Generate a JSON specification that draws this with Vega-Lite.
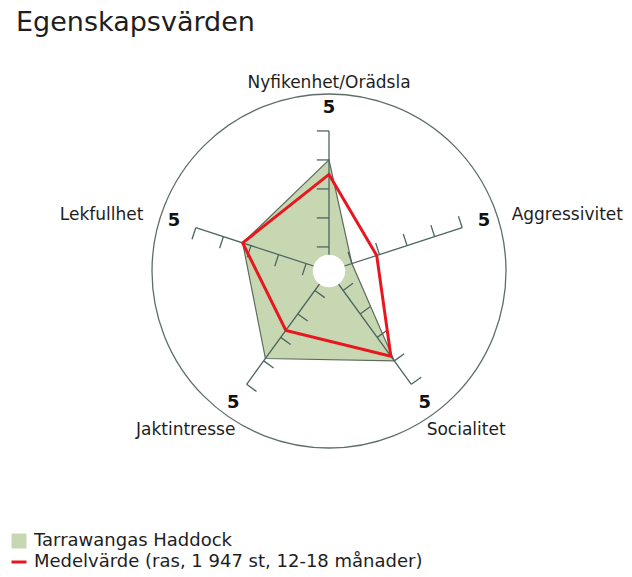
{
  "$schema": "https://vega.github.io/schema/vega-lite/v6.json",
  "width": 632,
  "height": 577,
  "autosize": "none",
  "padding": 0,
  "background": "white",
  "title": {
    "text": "Egenskapsvärden",
    "anchor": "start",
    "frame": "group",
    "offset": -37,
    "dx": 16,
    "baseline": "top",
    "font": "DejaVu Sans",
    "fontSize": 27,
    "fontWeight": "normal",
    "color": "#1e1e1e"
  },
  "datasets": {
    "varden": [
      {"egenskap": "Nyfikenhet/Orädsla", "ordning": 0, "serie": "Tarrawangas Haddock", "varde": 4},
      {"egenskap": "Aggressivitet", "ordning": 1, "serie": "Tarrawangas Haddock", "varde": 1},
      {"egenskap": "Socialitet", "ordning": 2, "serie": "Tarrawangas Haddock", "varde": 4},
      {"egenskap": "Jaktintresse", "ordning": 3, "serie": "Tarrawangas Haddock", "varde": 3.9},
      {"egenskap": "Lekfullhet", "ordning": 4, "serie": "Tarrawangas Haddock", "varde": 3.3},
      {"egenskap": "Nyfikenhet/Orädsla", "ordning": 0, "serie": "Medelvärde (ras, 1 947 st, 12-18 månader)", "varde": 3.5},
      {"egenskap": "Aggressivitet", "ordning": 1, "serie": "Medelvärde (ras, 1 947 st, 12-18 månader)", "varde": 1.9},
      {"egenskap": "Socialitet", "ordning": 2, "serie": "Medelvärde (ras, 1 947 st, 12-18 månader)", "varde": 3.8},
      {"egenskap": "Jaktintresse", "ordning": 3, "serie": "Medelvärde (ras, 1 947 st, 12-18 månader)", "varde": 2.7},
      {"egenskap": "Lekfullhet", "ordning": 4, "serie": "Medelvärde (ras, 1 947 st, 12-18 månader)", "varde": 3.3}
    ],
    "axlar": [
      {"egenskap": "Nyfikenhet/Orädsla", "ordning": 0, "skala": [1, 2, 3, 4, 5], "max": 5},
      {"egenskap": "Aggressivitet", "ordning": 1, "skala": [1, 2, 3, 4, 5], "max": 5},
      {"egenskap": "Socialitet", "ordning": 2, "skala": [1, 2, 3, 4, 5], "max": 5},
      {"egenskap": "Jaktintresse", "ordning": 3, "skala": [1, 2, 3, 4, 5], "max": 5},
      {"egenskap": "Lekfullhet", "ordning": 4, "skala": [1, 2, 3, 4, 5], "max": 5}
    ]
  },
  "encoding": {
    "x": {
      "field": "px",
      "type": "quantitative",
      "scale": {"domain": [-11.3448, 10.4483], "nice": false, "zero": false},
      "axis": null
    },
    "y": {
      "field": "py",
      "type": "quantitative",
      "scale": {"domain": [-10.5517, 9.3448], "nice": false, "zero": false},
      "axis": null
    }
  },
  "layer": [
    {
      "data": {"name": "axlar"},
      "transform": [
        {"filter": "datum.ordning == 0"},
        {"calculate": "0", "as": "px"},
        {"calculate": "0", "as": "py"}
      ],
      "mark": {"type": "point", "shape": "circle", "size": 125316, "filled": false, "stroke": "#5f6d69", "strokeWidth": 1.3, "opacity": 1}
    },
    {
      "data": {"name": "varden"},
      "transform": [
        {"filter": "datum.serie == 'Tarrawangas Haddock'"},
        {"calculate": "PI / 2 - datum.ordning * 2 * PI / 5", "as": "a"},
        {"calculate": "(datum.varde - 0.17) * cos(datum.a)", "as": "px"},
        {"calculate": "(datum.varde - 0.17) * sin(datum.a)", "as": "py"}
      ],
      "mark": {"type": "line", "interpolate": "linear-closed", "stroke": "#5b6a5c", "strokeWidth": 1.2},
      "encoding": {
        "order": {"field": "ordning"},
        "fill": {
          "field": "serie",
          "type": "nominal",
          "scale": {"domain": ["Tarrawangas Haddock"], "range": ["#c7d7b2"]},
          "legend": {
            "orient": "none",
            "legendX": 10,
            "legendY": 532,
            "title": null,
            "symbolType": "square",
            "symbolSize": 225,
            "symbolStrokeWidth": 0,
            "labelFont": "DejaVu Sans",
            "labelFontSize": 18,
            "labelColor": "#1e1e1e",
            "labelOffset": 6,
            "labelLimit": 0
          }
        }
      }
    },
    {
      "data": {"name": "axlar"},
      "transform": [
        {"calculate": "PI / 2 - datum.ordning * 2 * PI / 5", "as": "a"},
        {"calculate": "0", "as": "px"},
        {"calculate": "0", "as": "py"},
        {"calculate": "(datum.max - 0.17) * cos(datum.a)", "as": "ex"},
        {"calculate": "(datum.max - 0.17) * sin(datum.a)", "as": "ey"}
      ],
      "mark": {"type": "rule", "stroke": "#4f6560", "strokeWidth": 1.3},
      "encoding": {
        "x2": {"field": "ex"},
        "y2": {"field": "ey"}
      }
    },
    {
      "data": {"name": "axlar"},
      "transform": [
        {"flatten": ["skala"]},
        {"calculate": "PI / 2 - datum.ordning * 2 * PI / 5", "as": "a"},
        {"calculate": "(datum.skala - 0.17) * cos(datum.a)", "as": "px"},
        {"calculate": "(datum.skala - 0.17) * sin(datum.a)", "as": "py"},
        {"calculate": "datum.px - 0.42 * sin(datum.a)", "as": "tx"},
        {"calculate": "datum.py + 0.42 * cos(datum.a)", "as": "ty"}
      ],
      "mark": {"type": "rule", "stroke": "#4f6560", "strokeWidth": 1.3},
      "encoding": {
        "x2": {"field": "tx"},
        "y2": {"field": "ty"}
      }
    },
    {
      "data": {"name": "varden"},
      "transform": [
        {"filter": "datum.serie != 'Tarrawangas Haddock'"},
        {"calculate": "PI / 2 - datum.ordning * 2 * PI / 5", "as": "a"},
        {"calculate": "(datum.varde - 0.17) * cos(datum.a)", "as": "px"},
        {"calculate": "(datum.varde - 0.17) * sin(datum.a)", "as": "py"}
      ],
      "mark": {"type": "line", "interpolate": "linear-closed", "strokeWidth": 3, "strokeJoin": "miter"},
      "encoding": {
        "order": {"field": "ordning"},
        "stroke": {
          "field": "serie",
          "type": "nominal",
          "scale": {"domain": ["Medelvärde (ras, 1 947 st, 12-18 månader)"], "range": ["#e8161e"]},
          "legend": {
            "orient": "none",
            "legendX": 10,
            "legendY": 553,
            "title": null,
            "symbolType": "stroke",
            "symbolSize": 225,
            "symbolStrokeWidth": 3,
            "labelFont": "DejaVu Sans",
            "labelFontSize": 18,
            "labelColor": "#1e1e1e",
            "labelOffset": 6,
            "labelLimit": 0
          }
        }
      }
    },
    {
      "data": {"name": "axlar"},
      "transform": [
        {"filter": "datum.ordning == 0"},
        {"calculate": "0", "as": "px"},
        {"calculate": "0", "as": "py"}
      ],
      "mark": {"type": "point", "shape": "circle", "size": 1050, "filled": true, "fill": "white", "opacity": 1, "strokeWidth": 0}
    },
    {
      "data": {"name": "axlar"},
      "transform": [
        {"calculate": "PI / 2 - datum.ordning * 2 * PI / 5", "as": "a"},
        {"calculate": "(datum.max + 0.62) * cos(datum.a)", "as": "px"},
        {"calculate": "(datum.max + 0.62) * sin(datum.a)", "as": "py"}
      ],
      "mark": {"type": "text", "font": "DejaVu Sans", "fontWeight": "bold", "fontSize": 18, "color": "#111111", "align": "center", "baseline": "middle"},
      "encoding": {"text": {"field": "max"}}
    },
    {
      "data": {"name": "axlar"},
      "transform": [
        {"calculate": "PI / 2 - datum.ordning * 2 * PI / 5", "as": "a"},
        {"calculate": "6.55 * cos(datum.a)", "as": "px"},
        {"calculate": "6.55 * sin(datum.a)", "as": "py"}
      ],
      "mark": {
        "type": "text",
        "font": "DejaVu Sans",
        "fontSize": 17,
        "color": "#1e1e1e",
        "baseline": "middle",
        "align": {"expr": "cos(datum.a) > 0.2 ? 'left' : cos(datum.a) < -0.2 ? 'right' : 'center'"},
        "dx": {"expr": "sin(datum.a) < 0 ? (cos(datum.a) > 0 ? -14 : 18) : (cos(datum.a) > 0.2 ? 2 : cos(datum.a) < -0.2 ? -5 : 0)"},
        "dy": {"expr": "sin(datum.a) < 0 ? 5 : sin(datum.a) > 0.9 ? 2 : 3"}
      },
      "encoding": {"text": {"field": "egenskap"}}
    }
  ],
  "config": {
    "font": "DejaVu Sans",
    "view": {"stroke": null}
  }
}
